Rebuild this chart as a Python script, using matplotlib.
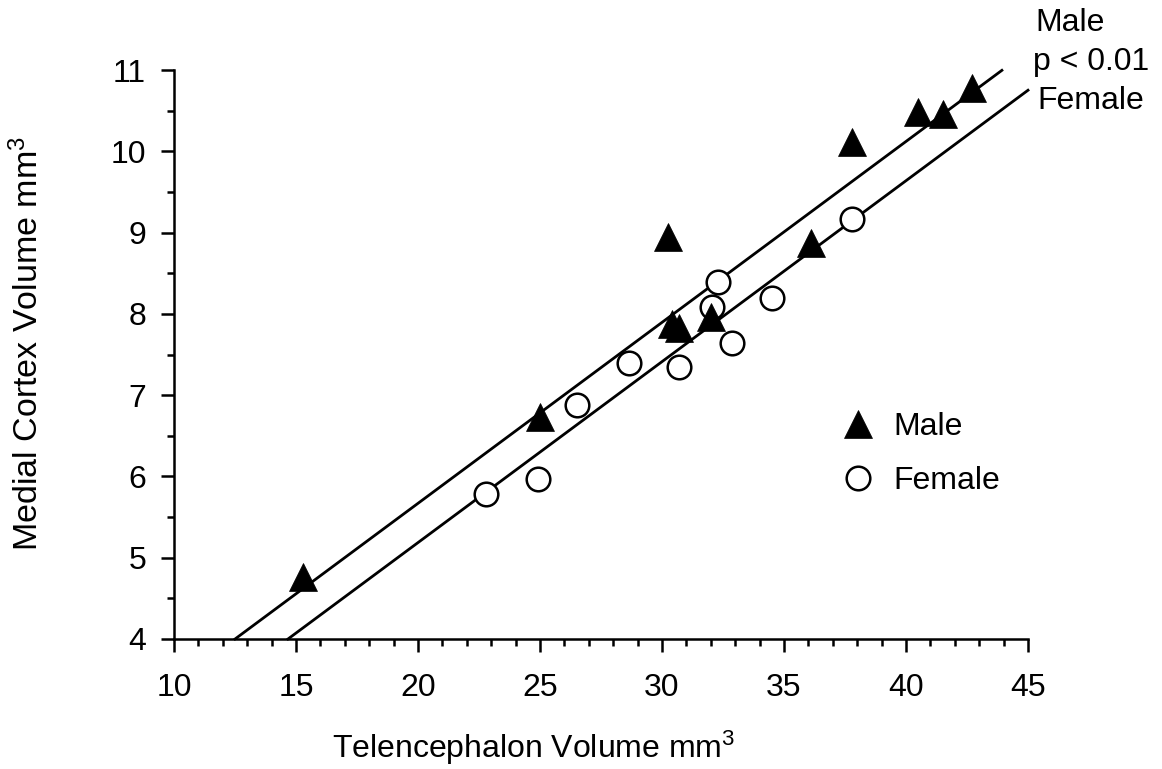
import matplotlib
matplotlib.use("Agg")
import matplotlib.pyplot as plt
import numpy as np

plt.rcParams['font.family'] = ['Liberation Sans', 'DejaVu Sans']
plt.rcParams['mathtext.fontset'] = 'custom'
plt.rcParams['mathtext.rm'] = 'Liberation Sans'
plt.rcParams['mathtext.it'] = 'Liberation Sans'

# Data
male_x = [15.3, 25.0, 30.25, 30.4, 30.7, 32.0, 36.1, 37.8, 40.5, 41.5, 42.7]
male_y = [4.76, 6.73, 8.94, 7.88, 7.82, 7.96, 8.87, 10.11, 10.48, 10.46, 10.78]
female_x = [22.8, 24.9, 26.5, 28.65, 30.7, 32.05, 32.3, 32.85, 34.5, 37.8]
female_y = [5.78, 5.97, 6.88, 7.39, 7.35, 8.08, 8.39, 7.64, 8.19, 9.17]

# Regression lines (common slope)
slope = 0.2226
male_intercept = 1.217
female_intercept = 0.734
male_line_x = [12.5, 43.93]
female_line_x = [14.67, 45.0]

xticks = [10, 15, 20, 25, 30, 35, 40, 45]
yticks = [4, 5, 6, 7, 8, 9, 10, 11]

fs = 23
fig = plt.figure(figsize=(11.62, 7.69), dpi=100)
ax = fig.add_axes([174/1162, 1-639/769, 854/1162, 569/769])

mlx = np.array(male_line_x)
flx = np.array(female_line_x)
ax.plot(mlx, slope*mlx + male_intercept, color='black', lw=2.0, clip_on=False, zorder=2)
ax.plot(flx, slope*flx + female_intercept, color='black', lw=2.0, clip_on=False, zorder=2)

ax.plot(female_x, female_y, linestyle='none', marker='o', ms=17, mfc='white',
        mec='black', mew=1.8, label='Female', clip_on=False, zorder=3)
ax.plot(male_x, male_y, linestyle='none', marker='^', ms=19.5, mfc='black',
        mec='black', mew=0.5, label='Male', clip_on=False, zorder=4)

ax.set_xlim(10, 45)
ax.set_ylim(4, 11)
ax.set_xticks(xticks)
ax.set_yticks(yticks)
ax.set_xticks(np.arange(10, 46, 1), minor=True)
ax.set_yticks(np.arange(4, 11.01, 0.5), minor=True)
ax.spines['top'].set_visible(False)
ax.spines['right'].set_visible(False)
for s in ['left', 'bottom']:
    ax.spines[s].set_linewidth(1.8)
ax.tick_params(which='major', direction='out', length=9.5, width=1.8, labelsize=fs)
ax.tick_params(which='minor', direction='out', length=4.8, width=1.8)
ax.tick_params(axis='x', which='major', pad=15)
ax.tick_params(axis='y', which='major', pad=10.5)

ax.set_xlabel(r'Telencephalon Volume mm$^{3}$', fontsize=fs)
ax.xaxis.set_label_coords((534-174)/854, (639-729)/569)
ax.set_ylabel(r'Medial Cortex Volume mm$^{3}$', fontsize=24.5)
ax.yaxis.set_label_coords((45-174)/854, 0.52)

h, l = ax.get_legend_handles_labels()
leg = ax.legend(h[::-1], l[::-1], frameon=False, fontsize=fs, loc='upper left',
                bbox_to_anchor=((842-174)/854, (639-412)/569), handlelength=1.0,
                handletextpad=0.6, labelspacing=0.75, borderpad=0, borderaxespad=0,
                numpoints=1)

fig.text(1035/1162, 1-23/769, 'Male', fontsize=fs, va='center', ha='left')
fig.text(1033/1162, 1-62/769, 'p < 0.01', fontsize=fs, va='center', ha='left')
fig.text(1037/1162, 1-101/769, 'Female', fontsize=fs, va='center', ha='left')

fig.savefig('out.png', dpi=100, facecolor='white')
